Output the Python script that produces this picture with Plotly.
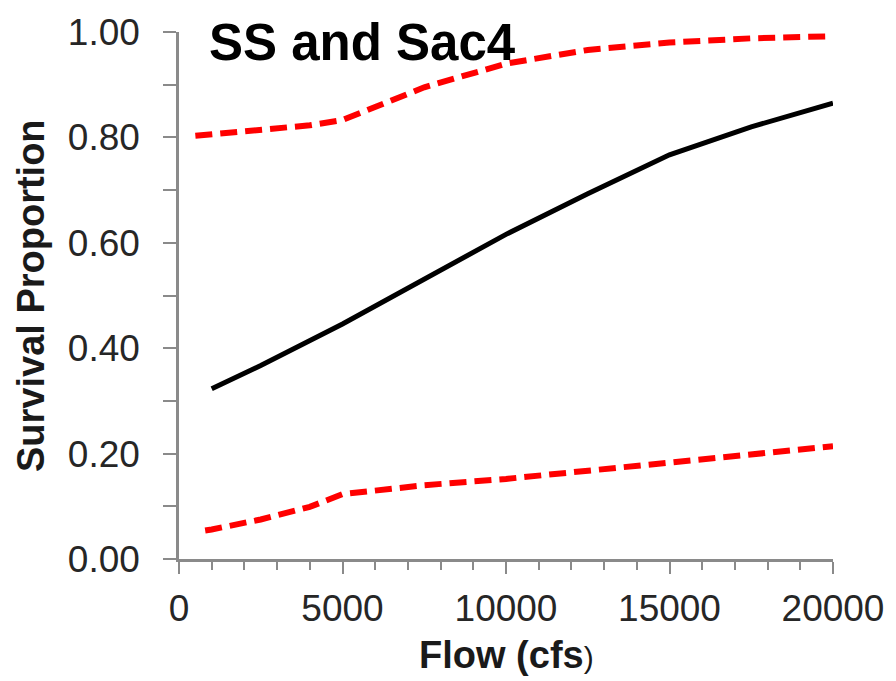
import plotly.graph_objects as go

# Survival vs. flow: fitted estimate and its confidence bounds
flow_mean = [1000, 2500, 5000, 7500, 10000, 12500, 15000, 17500, 20000]
surv_mean = [0.323, 0.367, 0.446, 0.530, 0.616, 0.693, 0.767, 0.820, 0.865]

flow_upper = [500, 1000, 2500, 4000, 5000, 6000, 7500, 10000, 12500, 15000, 17500, 20000]
surv_upper = [0.803, 0.806, 0.813, 0.823, 0.833, 0.858, 0.895, 0.940, 0.966, 0.980, 0.988, 0.992]

flow_lower = [800, 1000, 2500, 4000, 5000, 7500, 10000, 12500, 15000, 17500, 20000]
surv_lower = [0.054, 0.056, 0.075, 0.099, 0.123, 0.140, 0.152, 0.168, 0.183, 0.199, 0.214]

y_ticks = [0.0, 0.2, 0.4, 0.6, 0.8, 1.0]
y_tick_text = ["0.00", "0.20", "0.40", "0.60", "0.80", "1.00"]
x_ticks = [0, 5000, 10000, 15000, 20000]

FONT = "Liberation Sans, Arial, sans-serif"
AXIS_GREY = "#8a8a8a"

fig = go.Figure()
fig.add_trace(go.Scatter(x=flow_upper, y=surv_upper, mode="lines",
                         line=dict(color="#ff0000", width=6, dash="17px,8px"),
                         showlegend=False))
fig.add_trace(go.Scatter(x=flow_lower, y=surv_lower, mode="lines",
                         line=dict(color="#ff0000", width=6, dash="17px,8px"),
                         showlegend=False))
fig.add_trace(go.Scatter(x=flow_mean, y=surv_mean, mode="lines",
                         line=dict(color="#000000", width=5),
                         showlegend=False))

fig.update_layout(
    width=896, height=681,
    margin=dict(l=179, r=57, t=26, b=122),
    paper_bgcolor="white", plot_bgcolor="white",
    font=dict(family=FONT, color="#262626"),
    xaxis=dict(
        range=[0, 20000], tickvals=x_ticks, ticktext=[str(v) for v in x_ticks],
        showgrid=False, zeroline=False,
        showline=True, linecolor=AXIS_GREY, linewidth=2.5,
        ticks="outside", ticklen=12, tickwidth=2, tickcolor=AXIS_GREY,
        tickfont=dict(size=37, family=FONT, color="#262626"),
        ticklabelstandoff=3,
        minor=dict(dtick=1000, ticks="outside", ticklen=8, tickwidth=2,
                   tickcolor=AXIS_GREY, showgrid=False),
    ),
    yaxis=dict(
        range=[0, 1], tickvals=y_ticks, ticktext=y_tick_text,
        showgrid=False, zeroline=False,
        showline=True, linecolor=AXIS_GREY, linewidth=2.5,
        ticks="outside", ticklen=13, tickwidth=2, tickcolor=AXIS_GREY,
        tickfont=dict(size=37, family=FONT, color="#262626"),
        ticklabelstandoff=16,
        minor=dict(dtick=0.1, ticks="outside", ticklen=13, tickwidth=2,
                   tickcolor=AXIS_GREY, showgrid=False),
    ),
    annotations=[
        dict(text="<b>SS and Sac4</b>", xref="paper", yref="paper",
             x=0.0424, y=0.98, xanchor="left", yanchor="middle",
             showarrow=False, font=dict(size=51, family=FONT, color="#000000")),
        dict(text="<b>Survival Proportion</b>", xref="paper", yref="paper",
             x=-0.227, y=0.5, xanchor="center", yanchor="middle", textangle=-90,
             showarrow=False, font=dict(size=38, family=FONT, color="#1a1a1a")),
        dict(text="<b>Flow (cfs</b><span style='font-size:30px'>)</span>",
             xref="paper", yref="paper",
             x=0.5, y=-0.182, xanchor="center", yanchor="middle",
             showarrow=False, font=dict(size=38, family=FONT, color="#1a1a1a")),
    ],
)

fig.write_html("out.html")
